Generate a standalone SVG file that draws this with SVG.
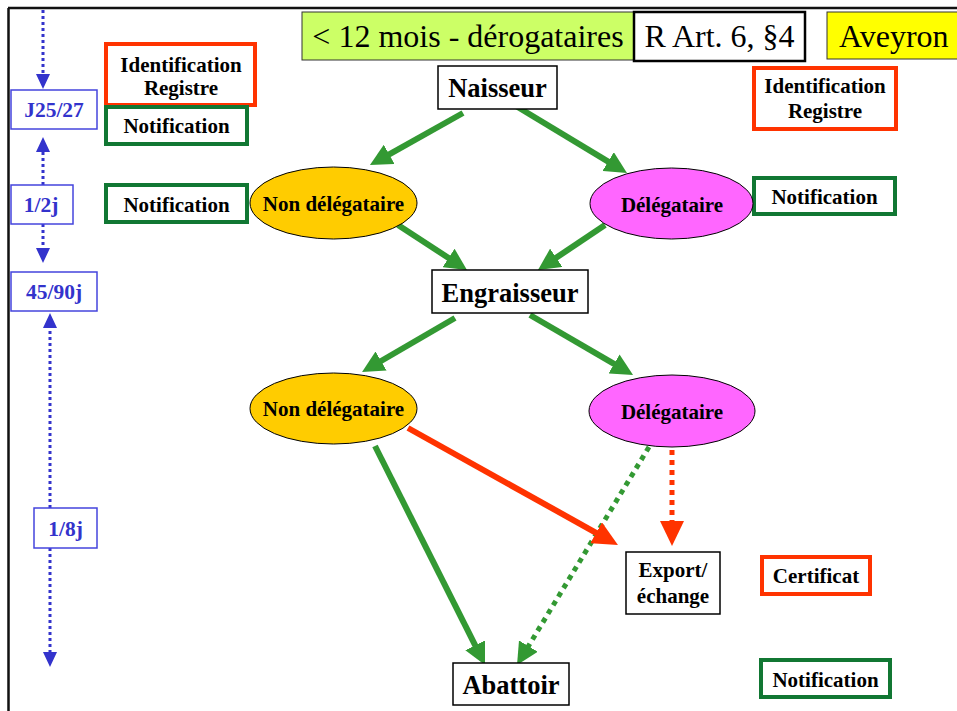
<svg xmlns="http://www.w3.org/2000/svg" width="957" height="711" viewBox="0 0 957 711">
  <style>
    text { font-family: "Liberation Serif", "Times New Roman", serif; text-anchor: middle; fill: #000; }
    .b { font-weight: bold; }
    .big { font-size: 26.5px; font-weight: bold; }
    .lbl { font-size: 21px; font-weight: bold; }
    .head { font-size: 32px; }
    .time { font-size: 21.5px; font-weight: bold; fill: #3333cc; }
    .box { fill: #fff; stroke: #000; stroke-width: 1.5; }
    .tbox { fill: #fff; stroke: #4444dd; stroke-width: 1.5; }
    .red { fill: #fff; stroke: #ff3300; stroke-width: 4; }
    .grn { fill: #fff; stroke: #117733; stroke-width: 4; }
    .flow { fill: none; stroke: #339933; stroke-width: 6; }
    .flow.dot { stroke-width: 5; stroke-dasharray: 5 5; }
    .redflow { fill: none; stroke: #ff3300; stroke-width: 6; }
    .redflow.dot { stroke-width: 5; stroke-dasharray: 5 5; }
    .span { fill: none; stroke: #3333cc; stroke-width: 3; stroke-dasharray: 3 3; }
  </style>
  <defs>
    <marker id="headG" markerUnits="userSpaceOnUse" markerWidth="22" markerHeight="22" refX="1" refY="11" orient="auto">
      <path d="M0,0 L22,11 L0,22 z" fill="#339933"/>
    </marker>
    <marker id="headR" markerUnits="userSpaceOnUse" markerWidth="25" markerHeight="24" refX="1" refY="12" orient="auto">
      <path d="M0,0 L25,12 L0,24 z" fill="#ff3300"/>
    </marker>
    <marker id="headB" markerUnits="userSpaceOnUse" markerWidth="15" markerHeight="14" refX="1" refY="7" orient="auto">
      <path d="M0,0 L15,7 L0,14 z" fill="#3333cc"/>
    </marker>
  </defs>

  <rect width="957" height="711" fill="#fff"/>
  <!-- frame -->
  <path d="M8,8 H957 M8.5,8 V711" fill="none" stroke="#111" stroke-width="2.5"/>

  <!-- title banner -->
  <g id="banner">
    <rect x="302" y="12" width="332" height="48" fill="#ccff66" stroke="#333" stroke-width="1"/>
    <text class="head" x="468" y="47">&lt; 12 mois - dérogataires</text>
    <rect x="634" y="12" width="171" height="49" fill="#fff" stroke="#000" stroke-width="2.5"/>
    <text class="head" x="719.5" y="47">R Art. 6, §4</text>
    <rect x="827" y="12" width="135" height="47" fill="#ffff00" stroke="#333" stroke-width="1"/>
    <text class="head" x="839" y="47" style="text-anchor:start">Aveyron</text>
  </g>

  <!-- time scale -->
  <g id="timeline">
    <path class="span" d="M43,10 V75" marker-end="url(#headB)"/>
    <path class="span" d="M43,185 V151" marker-end="url(#headB)"/>
    <path class="span" d="M43,224 V249" marker-end="url(#headB)"/>
    <path class="span" d="M50,508 V327" marker-end="url(#headB)"/>
    <path class="span" d="M50,548 V653" marker-end="url(#headB)"/>
  </g>
  <g id="t-j25">
    <rect class="tbox" x="11" y="90" width="86" height="39"/>
    <text class="time" x="54" y="117">J25/27</text>
  </g>
  <g id="t-12j">
    <rect class="tbox" x="11" y="185" width="62" height="39"/>
    <text class="time" x="41" y="212">1/2j</text>
  </g>
  <g id="t-4590j">
    <rect class="tbox" x="11" y="272" width="86" height="39"/>
    <text class="time" x="54" y="299">45/90j</text>
  </g>
  <g id="t-18j">
    <rect class="tbox" x="34" y="508" width="63" height="40"/>
    <text class="time" x="65.5" y="536">1/8j</text>
  </g>

  <!-- obligations, left column -->
  <g id="ident-left">
    <rect class="red" x="106" y="44" width="149" height="61"/>
    <text class="lbl" x="181" y="72">Identification</text>
    <text class="lbl" x="181" y="95">Registre</text>
  </g>
  <g id="notif-left-1">
    <rect class="grn" x="106" y="107" width="141" height="37"/>
    <text class="lbl" x="176.5" y="133">Notification</text>
  </g>
  <g id="notif-left-2">
    <rect class="grn" x="106" y="185" width="141" height="37"/>
    <text class="lbl" x="176.5" y="212">Notification</text>
  </g>

  <!-- obligations, right column -->
  <g id="ident-right">
    <rect class="red" x="754" y="68" width="142" height="61"/>
    <text class="lbl" x="825" y="93">Identification</text>
    <text class="lbl" x="825" y="118">Registre</text>
  </g>
  <g id="notif-right">
    <rect class="grn" x="754" y="178" width="141" height="36"/>
    <text class="lbl" x="824.5" y="204">Notification</text>
  </g>
  <g id="certificat">
    <rect class="red" x="762" y="557" width="108" height="37"/>
    <text class="lbl" x="816" y="583">Certificat</text>
  </g>
  <g id="notif-abattoir">
    <rect class="grn" x="761" y="660" width="129" height="37"/>
    <text class="lbl" x="825.5" y="687">Notification</text>
  </g>

  <!-- flows -->
  <g id="connectors">
    <path class="flow" d="M463,113 L388.3,154.8" marker-end="url(#headG)"/>
    <path class="flow" d="M516,106 L609,162.1" marker-end="url(#headG)"/>
    <path class="flow" d="M398,225 L449.4,258.5" marker-end="url(#headG)"/>
    <path class="flow" d="M605,225 L555.4,258.3" marker-end="url(#headG)"/>
    <path class="flow" d="M455,318 L380.2,361.5" marker-end="url(#headG)"/>
    <path class="flow" d="M530,315 L614.9,364.4" marker-end="url(#headG)"/>
    <path class="flow" d="M375,446 L475.6,646.2" marker-end="url(#headG)"/>
    <path class="flow dot" d="M649,447 L527.9,647" marker-end="url(#headG)"/>
    <path class="redflow" d="M408,428 L597,533.3" marker-end="url(#headR)"/>
    <path class="redflow dot" d="M672,450 V522" marker-end="url(#headR)"/>
  </g>

  <!-- holdings -->
  <g id="naisseur">
    <rect class="box" x="438" y="66" width="119" height="43"/>
    <text class="big" x="497.5" y="97">Naisseur</text>
  </g>
  <g id="non-deleg-1">
    <ellipse cx="333.5" cy="203" rx="83.5" ry="36" fill="#ffcc00" stroke="#000" stroke-width="1"/>
    <text class="lbl" x="333.5" y="211">Non délégataire</text>
  </g>
  <g id="deleg-1">
    <ellipse cx="671.5" cy="203.5" rx="81.5" ry="35.5" fill="#ff66ff" stroke="#000" stroke-width="1"/>
    <text class="lbl" x="672" y="212">Délégataire</text>
  </g>
  <g id="engraisseur">
    <rect class="box" x="432" y="270" width="156" height="43"/>
    <text class="big" x="510" y="302">Engraisseur</text>
  </g>
  <g id="non-deleg-2">
    <ellipse cx="333.5" cy="408.5" rx="83.5" ry="35.5" fill="#ffcc00" stroke="#000" stroke-width="1"/>
    <text class="lbl" x="333.5" y="416">Non délégataire</text>
  </g>
  <g id="deleg-2">
    <ellipse cx="672" cy="411" rx="83" ry="36" fill="#ff66ff" stroke="#000" stroke-width="1"/>
    <text class="lbl" x="672" y="419">Délégataire</text>
  </g>
  <g id="export">
    <rect class="box" x="626" y="552" width="94" height="62"/>
    <text class="lbl" x="673" y="577">Export/</text>
    <text class="lbl" x="673" y="603">échange</text>
  </g>
  <g id="abattoir">
    <rect class="box" x="453" y="663" width="116" height="42"/>
    <text class="big" x="511" y="694">Abattoir</text>
  </g>
</svg>
